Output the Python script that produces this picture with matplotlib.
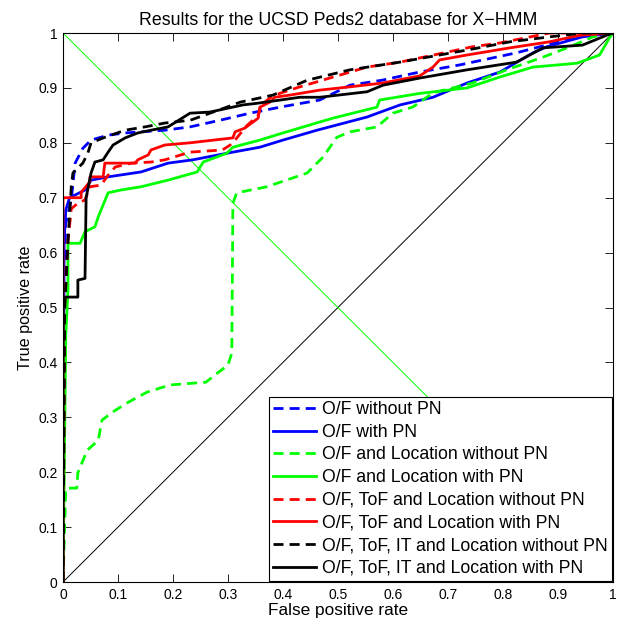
import matplotlib
matplotlib.use("Agg")
import matplotlib.pyplot as plt

plt.rcParams['font.family'] = ['Liberation Sans', 'DejaVu Sans']

# ---- data ----
of_nopn_x = [0, 0.002, 0.005, 0.015, 0.022, 0.036, 0.051, 0.082, 0.113, 0.185, 0.231, 0.285, 0.34, 0.40, 0.467, 0.522, 0.58, 0.649, 0.722, 0.825, 0.867, 0.945, 1]
of_nopn_y = [0, 0.55, 0.654, 0.696, 0.763, 0.79, 0.805, 0.814, 0.818, 0.823, 0.829, 0.841, 0.854, 0.866, 0.878, 0.905, 0.914, 0.929, 0.942, 0.964, 0.975, 0.996, 1]

of_pn_x = [0, 0.002, 0.005, 0.012, 0.04, 0.051, 0.082, 0.142, 0.191, 0.236, 0.298, 0.358, 0.40, 0.462, 0.553, 0.613, 0.673, 0.735, 0.795, 0.855, 0.88, 0.945, 1]
of_pn_y = [0, 0.62, 0.678, 0.70, 0.714, 0.732, 0.738, 0.747, 0.763, 0.769, 0.781, 0.792, 0.805, 0.823, 0.847, 0.869, 0.883, 0.909, 0.929, 0.964, 0.975, 0.993, 1]

ofl_nopn_x = [0, 0.005, 0.013, 0.025, 0.027, 0.044, 0.064, 0.071, 0.091, 0.116, 0.153, 0.195, 0.26, 0.28, 0.30, 0.307, 0.309, 0.316, 0.371, 0.444, 0.473, 0.498, 0.522, 0.571, 0.60, 0.636, 0.673, 0.745, 0.807, 0.873, 0.922, 0.964, 1]
ofl_nopn_y = [0, 0.17, 0.171, 0.171, 0.199, 0.24, 0.258, 0.295, 0.31, 0.326, 0.346, 0.359, 0.364, 0.38, 0.395, 0.417, 0.69, 0.709, 0.72, 0.745, 0.774, 0.81, 0.82, 0.829, 0.854, 0.865, 0.891, 0.909, 0.933, 0.956, 0.975, 0.993, 1]

ofl_pn_x = [0, 0.005, 0.009, 0.009, 0.031, 0.04, 0.058, 0.064, 0.082, 0.105, 0.142, 0.191, 0.244, 0.255, 0.298, 0.309, 0.358, 0.40, 0.491, 0.571, 0.576, 0.649, 0.735, 0.795, 0.855, 0.935, 0.976, 0.995, 1]
ofl_pn_y = [0, 0.45, 0.532, 0.617, 0.617, 0.638, 0.647, 0.665, 0.709, 0.714, 0.72, 0.732, 0.747, 0.765, 0.781, 0.792, 0.805, 0.818, 0.845, 0.865, 0.878, 0.89, 0.90, 0.92, 0.938, 0.945, 0.96, 0.993, 1]

oftl_nopn_x = [0, 0.003, 0.009, 0.015, 0.027, 0.04, 0.049, 0.069, 0.082, 0.095, 0.124, 0.16, 0.185, 0.231, 0.29, 0.304, 0.313, 0.333, 0.355, 0.36, 0.38, 0.40, 0.431, 0.553, 0.613, 0.745, 0.795, 0.885, 1]
oftl_nopn_y = [0, 0.5, 0.62, 0.68, 0.69, 0.696, 0.72, 0.723, 0.741, 0.756, 0.763, 0.765, 0.769, 0.783, 0.787, 0.796, 0.805, 0.83, 0.85, 0.868, 0.885, 0.892, 0.902, 0.938, 0.947, 0.975, 0.982, 1.0, 1]

oftl_pn_x = [0, 0.0, 0.033, 0.033, 0.049, 0.049, 0.073, 0.076, 0.131, 0.136, 0.155, 0.16, 0.185, 0.231, 0.309, 0.313, 0.331, 0.355, 0.358, 0.376, 0.385, 0.413, 0.467, 0.522, 0.582, 0.649, 0.673, 0.685, 0.735, 0.813, 0.885, 0.94, 1]
oftl_pn_y = [0, 0.70, 0.70, 0.71, 0.729, 0.738, 0.738, 0.763, 0.763, 0.769, 0.778, 0.787, 0.796, 0.80, 0.809, 0.82, 0.827, 0.845, 0.865, 0.874, 0.883, 0.887, 0.896, 0.902, 0.909, 0.922, 0.938, 0.951, 0.96, 0.973, 0.984, 0.996, 1]

oftil_nopn_x = [0, 0.003, 0.009, 0.015, 0.018, 0.036, 0.045, 0.051, 0.076, 0.113, 0.149, 0.185, 0.231, 0.298, 0.322, 0.382, 0.444, 0.522, 0.613, 0.735, 0.813, 0.885, 0.945, 1]
oftil_nopn_y = [0, 0.5, 0.62, 0.72, 0.745, 0.763, 0.781, 0.80, 0.81, 0.823, 0.829, 0.836, 0.841, 0.865, 0.874, 0.887, 0.914, 0.933, 0.947, 0.969, 0.984, 0.993, 1.0, 1]

oftil_pn_x = [0, 0.0, 0.027, 0.027, 0.04, 0.042, 0.051, 0.058, 0.073, 0.082, 0.091, 0.113, 0.136, 0.16, 0.191, 0.231, 0.267, 0.327, 0.353, 0.431, 0.467, 0.553, 0.582, 0.649, 0.735, 0.825, 0.873, 0.945, 0.989, 1]
oftil_pn_y = [0, 0.519, 0.519, 0.55, 0.553, 0.70, 0.745, 0.765, 0.769, 0.783, 0.796, 0.809, 0.818, 0.823, 0.829, 0.854, 0.856, 0.869, 0.872, 0.883, 0.883, 0.893, 0.905, 0.918, 0.933, 0.947, 0.973, 0.978, 0.996, 1]

labels = [
    "O/F without PN",
    "O/F with PN",
    "O/F and Location without PN",
    "O/F and Location with PN",
    "O/F, ToF and Location without PN",
    "O/F, ToF and Location with PN",
    "O/F, ToF, IT and Location without PN",
    "O/F, ToF, IT and Location with PN",
]
ticks = [0, 0.1, 0.2, 0.3, 0.4, 0.5, 0.6, 0.7, 0.8, 0.9, 1]
tick_labels = ["0", "0.1", "0.2", "0.3", "0.4", "0.5", "0.6", "0.7", "0.8", "0.9", "1"]

series = [
    (of_nopn_x, of_nopn_y, "#0000ff", "--"),
    (of_pn_x, of_pn_y, "#0000ff", "-"),
    (ofl_nopn_x, ofl_nopn_y, "#00ff00", "--"),
    (ofl_pn_x, ofl_pn_y, "#00ff00", "-"),
    (oftl_nopn_x, oftl_nopn_y, "#ff0000", "--"),
    (oftl_pn_x, oftl_pn_y, "#ff0000", "-"),
    (oftil_nopn_x, oftil_nopn_y, "#000000", "--"),
    (oftil_pn_x, oftil_pn_y, "#000000", "-"),
]

fig = plt.figure(figsize=(6.24, 6.22), dpi=100)
ax = fig.add_axes([0.101, 0.0643, 0.881, 0.8826])

ax.plot([0, 1], [0, 1], color="#000000", lw=0.7)
ax.plot([0, 1], [1, 0], color="#00ff00", lw=0.7)

for (xs, ys, c, ls), lab in zip(series, labels):
    if ls == "--":
        ax.plot(xs, ys, color=c, lw=2.0, linestyle=(0, (3.6, 2.2)), label=lab)
    else:
        ax.plot(xs, ys, color=c, lw=2.0, label=lab)

ax.set_xlim(0, 1)
ax.set_ylim(0, 1)
ax.set_xticks(ticks)
ax.set_xticklabels(tick_labels)
ax.set_yticks(ticks)
ax.set_yticklabels(tick_labels)
ax.tick_params(direction="in", length=5.5, width=0.6, top=True, right=True, labelsize=10, pad=4)
for s in ax.spines.values():
    s.set_linewidth(0.8)

ax.set_title("Results for the UCSD Peds2 database for X\u2212HMM", fontsize=12.8, pad=6)
ax.set_xlabel("False positive rate", fontsize=12.4, labelpad=1)
ax.set_ylabel("True positive rate", fontsize=11.6, labelpad=4)

leg = ax.legend(loc="lower right", bbox_to_anchor=(1.0, 0.0), borderaxespad=0.05,
                fontsize=12.7, handlelength=2.45, handletextpad=0.3, labelspacing=0.32,
                fancybox=False, edgecolor="black", framealpha=1, borderpad=0.25)
leg.get_frame().set_linewidth(0.8)

fig.savefig("out.png", dpi=100)
